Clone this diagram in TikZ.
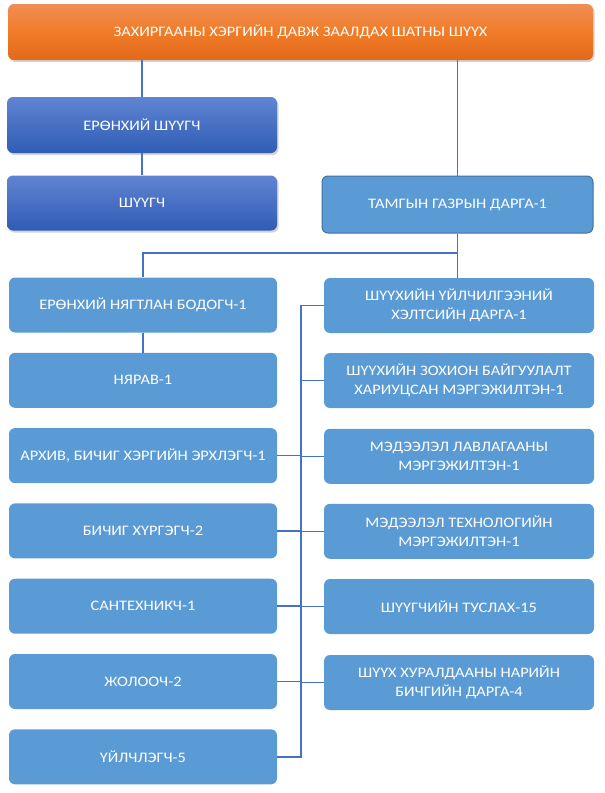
\documentclass[tikz,border=0pt]{standalone}
\usepackage{fontspec}
\setmainfont{Carlito}[FakeStretch=1.13]
\usetikzlibrary{shadows}
\definecolor{lineblue}{RGB}{68,114,196}
\definecolor{lightbox}{RGB}{91,155,213}
\definecolor{lightborder}{RGB}{65,113,156}
\definecolor{orangetop}{RGB}{241,141,84}
\definecolor{orangemid}{RGB}{240,124,40}
\definecolor{orangebot}{RGB}{226,104,26}
\definecolor{darktop}{RGB}{96,132,210}
\definecolor{darkbot}{RGB}{47,93,181}
\tikzset{
  box/.style={rectangle, rounded corners=6pt, inner sep=2pt, align=center,
    text=white, font=\fontsize{14.5}{19}\selectfont},
  orangebox/.style={box, top color=orangetop, bottom color=orangebot, middle color=orangemid,
    drop shadow={opacity=0.35, shadow xshift=1.5pt, shadow yshift=-2pt}},
  darkbox/.style={box, top color=darktop, bottom color=darkbot,
    drop shadow={opacity=0.35, shadow xshift=1.5pt, shadow yshift=-2pt}},
  lightboxstyle/.style={box, fill=lightbox},
  leftbox/.style={lightboxstyle, minimum width=268pt, minimum height=55pt},
  rightbox/.style={lightboxstyle, minimum width=270pt, minimum height=55pt},
  conn/.style={draw=lineblue, line width=1.6pt}
}
\begin{document}
\begin{tikzpicture}[x=1pt,y=-1pt]
\useasboundingbox (0,0) rectangle (605,793);
% top
\node[orangebox, minimum width=585pt, minimum height=56pt] (top) at (300.5,32) {ЗАХИРГААНЫ ХЭРГИЙН ДАВЖ ЗААЛДАХ ШАТНЫ ШҮҮХ};
\node[darkbox, minimum width=270pt, minimum height=56pt] (ersh) at (142,125) {ЕРӨНХИЙ ШҮҮГЧ};
\node[darkbox, minimum width=270pt, minimum height=55pt] (shuugch) at (142,203) {ШҮҮГЧ};
\node[lightboxstyle, draw=lightborder, line width=1pt, minimum width=271pt, minimum height=57pt] (tamga) at (457.5,204.5) {ТАМГЫН ГАЗРЫН ДАРГА-1};
% left column
\node[leftbox] (l1) at (143,305) {ЕРӨНХИЙ НЯГТЛАН БОДОГЧ-1};
\node[leftbox] (l2) at (143,380.3) {НЯРАВ-1};
\node[leftbox] (l3) at (143,455.6) {АРХИВ, БИЧИГ ХЭРГИЙН ЭРХЛЭГЧ-1};
\node[leftbox] (l4) at (143,530.9) {БИЧИГ ХҮРГЭГЧ-2};
\node[leftbox] (l5) at (143,606.2) {САНТЕХНИКЧ-1};
\node[leftbox] (l6) at (143,681.5) {ЖОЛООЧ-2};
\node[leftbox] (l7) at (143,756.8) {ҮЙЛЧЛЭГЧ-5};
% right column
\node[rightbox] (r1) at (459,305.5) {ШҮҮХИЙН ҮЙЛЧИЛГЭЭНИЙ\\ХЭЛТСИЙН ДАРГА-1};
\node[rightbox] (r2) at (459,380.5) {ШҮҮХИЙН ЗОХИОН БАЙГУУЛАЛТ\\ХАРИУЦСАН МЭРГЭЖИЛТЭН-1};
\node[rightbox] (r3) at (459,456.3) {МЭДЭЭЛЭЛ ЛАВЛАГААНЫ\\МЭРГЭЖИЛТЭН-1};
\node[rightbox] (r4) at (459,531.3) {МЭДЭЭЛЭЛ ТЕХНОЛОГИЙН\\МЭРГЭЖИЛТЭН-1};
\node[rightbox] (r5) at (459,606.5) {ШҮҮГЧИЙН ТУСЛАХ-15};
\node[rightbox] (r6) at (459,682.5) {ШҮҮХ ХУРАЛДААНЫ НАРИЙН\\БИЧГИЙН ДАРГА-4};
% helper coordinates
\coordinate (bus) at (301,0);
\coordinate (split) at (457.5,253);
% connectors
\draw[conn] (top.south -| ersh) -- (ersh.north);
\draw[conn] (ersh.south) -- (shuugch.north);
\draw[conn] (top.south -| tamga) -- (tamga.north);
\draw[conn] (tamga.south) -- (tamga.south |- r1.north);
\draw[conn] (split) -| (l1.north);
\draw[conn] (l1.south) -- (l2.north);
\draw[conn] (r1.west) -- (r1.west -| bus) -- (l7.east -| bus) -- (l7.east);
\foreach \r in {r2,r3,r4,r5,r6} \draw[conn] (\r.west) -- (\r.west -| bus);
\foreach \l in {l3,l4,l5,l6} \draw[conn] (\l.east) -- (\l.east -| bus);
\end{tikzpicture}
\end{document}
